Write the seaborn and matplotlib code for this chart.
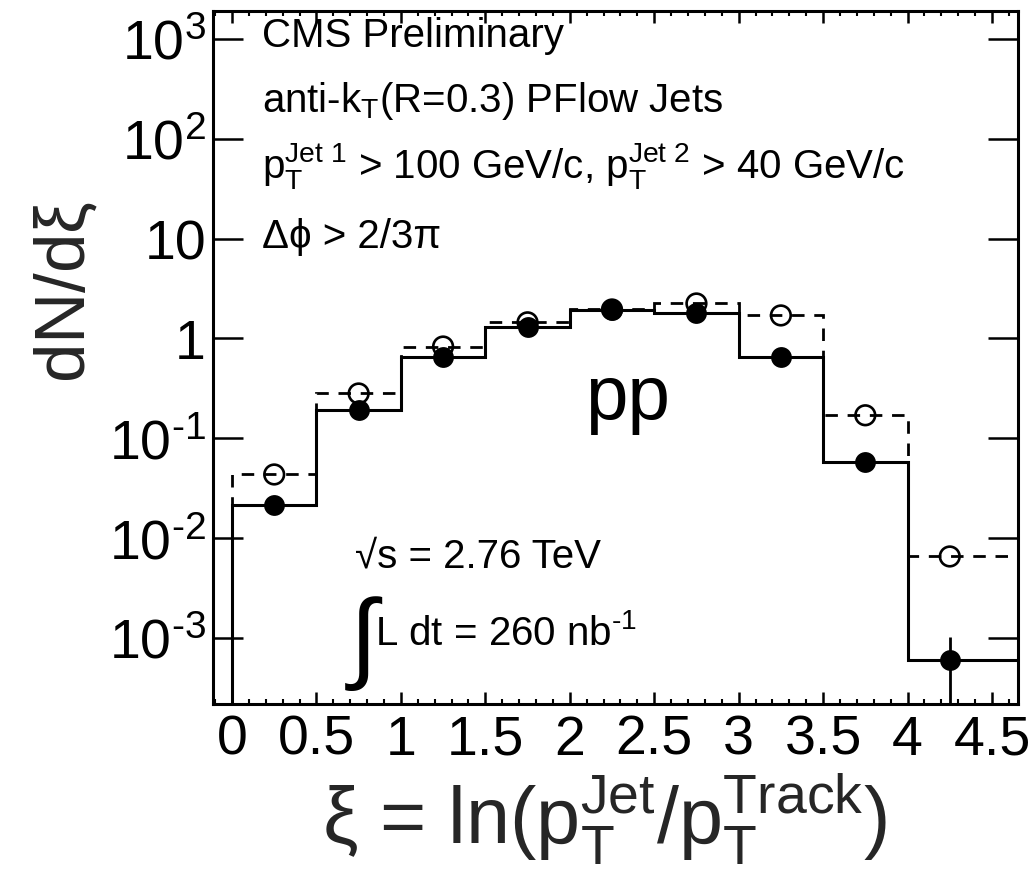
import matplotlib
matplotlib.use("Agg")
import numpy as np
import matplotlib.pyplot as plt
import seaborn as sns
from matplotlib.ticker import FixedLocator, FixedFormatter, MultipleLocator, LogLocator, NullFormatter
from matplotlib.patches import Rectangle

# ---------------- data ----------------
bin_edges = [0.0, 0.5, 1.0, 1.5, 2.0, 2.5, 3.0, 3.5, 4.0, 5.0]
bin_centers = [0.25, 0.75, 1.25, 1.75, 2.25, 2.75, 3.25, 3.75, 4.25]
filled_vals = [0.0217, 0.190, 0.645, 1.29, 1.91, 1.78, 0.645, 0.0573, 6.08e-4]
open_vals = [0.0434, 0.281, 0.83, 1.45, 1.95, 2.24, 1.70, 0.17, 0.00655]
filled_err_up = [0, 0, 0, 0, 0, 0, 0, 0, 4.2e-4]
filled_err_dn = [0, 0, 0, 0, 0, 0, 0, 0, 5.98e-4]

xtick_vals = [0, 0.5, 1, 1.5, 2, 2.5, 3, 3.5, 4, 4.5]
xtick_labels = ["0", "0.5", "1", "1.5", "2", "2.5", "3", "3.5", "4", "4.5"]
ytick_vals = [1e-3, 1e-2, 1e-1, 1, 10, 1e2, 1e3]
ytick_labels = [r"$10^{\text{-}3}$", r"$10^{\text{-}2}$", r"$10^{\text{-}1}$", "1", "10",
                r"$10^{2}$", r"$10^{3}$"]

# ---------------- style ----------------
sns.set_theme(style="ticks")
plt.rcParams["font.family"] = ["Liberation Sans", "DejaVu Sans"]
plt.rcParams["mathtext.fontset"] = "custom"
plt.rcParams["mathtext.rm"] = "Liberation Sans"
plt.rcParams["mathtext.it"] = "Liberation Sans"
plt.rcParams["mathtext.sf"] = "Liberation Sans"
plt.rcParams["mathtext.bf"] = "Liberation Sans:bold"
plt.rcParams["text.color"] = "black"
plt.rcParams["axes.edgecolor"] = "black"

fig = plt.figure(figsize=(10.29, 8.87), dpi=100)
ax = fig.add_axes([0.2070, 0.2052, 0.7823, 0.7813])
ax.set_yscale("log")
ax.set_xlim(-0.1124, 4.654)
ax.set_ylim(2.18e-4, 1906)

# histograms
ax.stairs(open_vals, bin_edges, baseline=1e-7, fill=False, color="black",
          lw=2.0, linestyle=(0, (4.5, 3.5)), zorder=2)
ax.stairs(filled_vals, bin_edges, baseline=1e-7, fill=False, color="black",
          lw=2.2, zorder=3)

# error bars
ax.errorbar(bin_centers, filled_vals, yerr=[filled_err_dn, filled_err_up], fmt="none",
            ecolor="black", elinewidth=2.0, capsize=0, zorder=4)

# markers
sns.scatterplot(x=bin_centers, y=open_vals, ax=ax, marker="o", s=200, color="black",
                facecolor="none", edgecolor="black", linewidth=1.9, zorder=5)
sns.scatterplot(x=bin_centers, y=filled_vals, ax=ax, marker="o", s=225, color="black",
                edgecolor="black", linewidth=0, zorder=6)

# axes styling
for sp in ax.spines.values():
    sp.set_linewidth(2.2)
    sp.set_color("black")
ax.xaxis.set_major_locator(FixedLocator(xtick_vals))
ax.xaxis.set_major_formatter(FixedFormatter(xtick_labels))
ax.xaxis.set_minor_locator(MultipleLocator(0.1))
ax.yaxis.set_major_locator(FixedLocator(ytick_vals))
ax.yaxis.set_major_formatter(FixedFormatter(ytick_labels))
ax.yaxis.set_minor_locator(LogLocator(base=10, subs=np.arange(2, 10)))
ax.yaxis.set_minor_formatter(NullFormatter())

ax.tick_params(which="both", direction="in", top=True, right=True, colors="black")
ax.tick_params(axis="x", which="major", length=8.6, width=1.8, labelsize=40, pad=7)
ax.tick_params(axis="x", which="minor", length=3.6, width=1.5)
ax.tick_params(axis="y", which="major", length=21.6, width=1.8, labelsize=40, pad=5)
ax.tick_params(axis="y", which="minor", length=10.8, width=1.5)

ax.set_ylabel(r"dN/d$\xi$", fontsize=51, va="center")
ax.yaxis.set_label_coords(-0.181, 0.596)
ax.set_xlabel(r"$\xi$ = ln(p$_{T}^{Jet}$/p$_{T}^{Track}$)", fontsize=57, va="top")
ax.xaxis.set_label_coords(0.486, -0.095)

# annotations
tk = dict(transform=ax.transAxes, va="baseline", ha="left", color="black")
ax.text(0.061, 0.9495, "CMS Preliminary", fontsize=29, **tk)
ax.text(0.061, 0.8557, r"anti-k$_{T}$(R=0.3) PFlow Jets", fontsize=29, **tk)
ax.text(0.061, 0.7605, r"p$_{T}^{Jet\ 1}$ > 100 GeV/c, p$_{T}^{Jet\ 2}$ > 40 GeV/c", fontsize=29, **tk)
ax.text(0.061, 0.6595, "Δϕ > 2/3π", fontsize=29, **tk)
ax.text(0.462, 0.413, "pp", fontsize=55, **tk)
ax.text(0.176, 0.199, "√s = 2.76 TeV", fontsize=29, **tk)
ax.text(0.201, 0.0866, r"L dt = 260 nb$^{\text{-}1}$", fontsize=29, **tk)
ax.text(0.187, 0.088, "∫", fontsize=72, transform=ax.transAxes, ha="center", va="center", color="black")

# white mask at lower-left corner (reference is cropped there)
fig.add_artist(Rectangle((0, 0), 212 / 1029, (887 - 708) / 887, transform=fig.transFigure,
                         facecolor="white", edgecolor="none", zorder=10))

fig.savefig("out.png", dpi=100)
